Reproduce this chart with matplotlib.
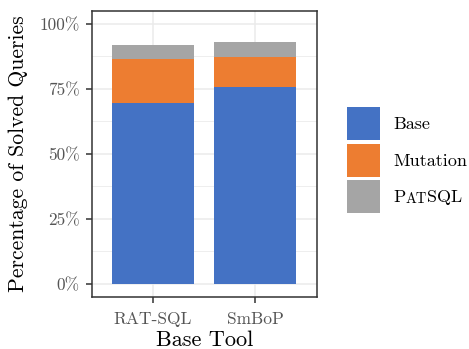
import matplotlib
matplotlib.use("Agg")
import matplotlib.pyplot as plt
import numpy as np

# data (percent of solved queries)
tools = ["RAT-SQL", "SmBoP"]
base = [69.6, 75.8]
mutation = [16.9, 11.5]
patsql = [5.4, 5.8]

yticks = [0, 25, 50, 75, 100]
ytick_labels = ["0%", "25%", "50%", "75%", "100%"]

colors = ["#4472C4", "#ED7D31", "#A5A5A5"]

plt.rcParams["font.family"] = "cmr10"
plt.rcParams["mathtext.fontset"] = "cm"
plt.rcParams["axes.unicode_minus"] = False

fig = plt.figure(figsize=(4.69, 3.49), dpi=100)
ax = fig.add_axes([0.1955, 0.150, 0.4795, 0.8185])

x = np.arange(1, len(tools) + 1)
b = np.array(base)
m = np.array(mutation)
p = np.array(patsql)
ax.bar(x, b, width=0.8, color=colors[0], label="Base", zorder=3)
ax.bar(x, m, width=0.8, bottom=b, color=colors[1], label="Mutation", zorder=3)
ax.bar(x, p, width=0.8, bottom=b + m, color=colors[2], label="P", zorder=3)

ax.set_xlim(0.4, 2.6)
ax.set_ylim(-5, 105)
ax.set_xticks(x)
ax.set_xticklabels(tools)
ax.set_yticks(yticks)
ax.set_yticklabels(ytick_labels)
ax.set_yticks([12.5, 37.5, 62.5, 87.5], minor=True)

ax.grid(True, which="major", color="#EBEBEB", lw=1.1, zorder=0)
ax.grid(True, which="minor", axis="y", color="#EBEBEB", lw=0.6, zorder=0)
ax.tick_params(which="major", length=4.5, width=1.1, color="#333333",
               labelcolor="#555555", labelsize=12.5, pad=4)
ax.tick_params(axis="x", pad=6)
ax.tick_params(which="minor", length=0)
for s in ax.spines.values():
    s.set_color("#333333")
    s.set_linewidth(1.1)

ax.set_xlabel("Base Tool", fontsize=16, labelpad=3)
ax.set_ylabel("Percentage of Solved Queries", fontsize=15.6, labelpad=8)

leg = fig.legend(loc="center left", bbox_to_anchor=(347 / 469, 0.5415),
                 frameon=False, fontsize=13, handlelength=1.83, handleheight=2.435,
                 labelspacing=0.19, handletextpad=0.72, borderpad=0, borderaxespad=0)

# small caps "PatSQL"
fig.canvas.draw()
t = leg.get_texts()[2]
a1 = ax.annotate("AT", xy=(1, 0), xycoords=t, xytext=(0, -0.6), textcoords="offset points",
                 va="bottom", ha="left", fontsize=10.4, annotation_clip=False)
ax.annotate("SQL", xy=(1, 0), xycoords=a1, xytext=(0, 0.6), textcoords="offset points",
            va="bottom", ha="left", fontsize=13, annotation_clip=False)

fig.savefig("out.png", dpi=100)
